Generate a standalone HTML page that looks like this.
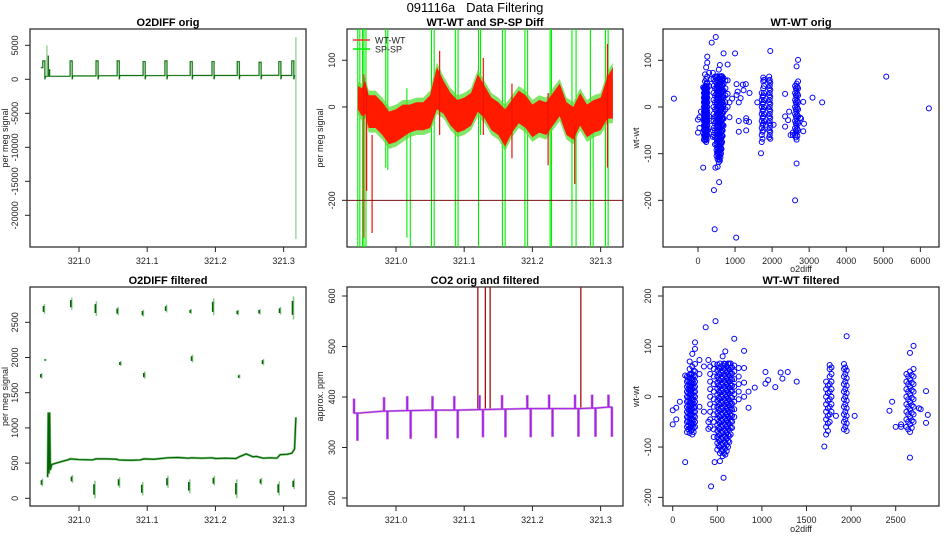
<!DOCTYPE html>
<html><head><meta charset="utf-8">
<style>
html,body{margin:0;padding:0;background:#fff;}
svg{display:block;font-family:"Liberation Sans",Arial,sans-serif;}
.tk{font-size:9px;fill:#222;}
.ttl{font-size:11px;font-weight:bold;fill:#000;}
.lab{font-size:9px;fill:#222;}
</style></head>
<body>
<svg id="root" width="950" height="550" viewBox="0 0 950 550">
<text x="475" y="12" text-anchor="middle" font-size="13" fill="#000" style="white-space:pre">091116a   Data Filtering</text>
<defs>
<clipPath id="c1"><rect x="30" y="29" width="276" height="218"/></clipPath>
<clipPath id="c2"><rect x="347" y="29" width="276" height="218"/></clipPath>
<clipPath id="c3"><rect x="663" y="29" width="276" height="218"/></clipPath>
<clipPath id="c4"><rect x="30" y="287" width="276" height="219"/></clipPath>
<clipPath id="c5"><rect x="347" y="287" width="276" height="219"/></clipPath>
<clipPath id="c6"><rect x="663" y="287" width="276" height="219"/></clipPath>
</defs>
</svg>
<script>
// ---------- data ----------
const cycT = [320.947,320.987,321.025,321.056,321.094,321.126,321.163,321.195,321.232,321.264,321.293,321.312];
const cycHi = [2700,2700,2700,2700,2600,2700,2600,2600,2600,2500,2600,2700];
const o2Base = [450,500,520,550,540,560,570,570,565,590,570,620];
const o2SpikeT = [320.953,320.955,320.957,321.318];
const o2SpikeV = [5000,3500,1500,6200];
const o2EndLow = -23500;

const wtMeanT = [320.944,320.95,320.955,320.96,320.97,320.98,320.99,321.0,321.01,321.02,321.03,321.04,321.05,321.06,321.07,321.08,321.09,321.1,321.11,321.12,321.13,321.14,321.15,321.16,321.17,321.18,321.19,321.2,321.21,321.22,321.23,321.24,321.25,321.26,321.27,321.28,321.29,321.3,321.31,321.318];
const wtMeanV = [20,10,20,-10,-10,-25,-45,-40,-30,-25,-20,-20,-10,40,20,-5,-20,-15,-5,30,10,-15,-25,-45,-20,0,-10,-30,-20,-25,-5,15,-25,-35,-5,-30,-20,-15,20,30];
const wtHalf = [25,30,35,35,35,35,35,35,35,30,30,30,35,45,35,35,35,35,35,40,35,35,35,40,35,35,35,35,35,35,35,35,35,35,35,35,35,35,45,55];
const wtSpikeT = [320.953,320.957,320.965,321.064,321.128,321.17,321.223,321.262,321.31];
const wtSpikeLo = [-280,-180,-270,-60,-60,-110,-125,-165,-130];
const wtSpikeHi = [70,40,-60,120,105,50,30,-40,135];
const spT = [320.944,320.947,320.951,320.953,320.956,320.985,320.988,321.016,321.021,321.052,321.056,321.087,321.091,321.121,321.124,321.156,321.16,321.189,321.193,321.226,321.228,321.258,321.264,321.285,321.289,321.307,321.311];
const spLo = [-300,-300,-300,-300,-300,-130,-135,-280,-300,-300,-300,-300,-300,-300,-60,-300,-300,-300,-300,-300,-300,-300,-300,-300,-300,-300,-300];
const spHi = [170,170,170,170,170,170,170,40,-40,170,170,170,170,170,170,170,170,170,170,170,170,170,170,170,-40,170,170];
const limitLine = -200;

const fHiT = [320.948,320.988,321.024,321.056,321.093,321.127,321.163,321.196,321.232,321.264,321.294,321.313];
const fHiLo = [2620,2680,2590,2600,2580,2640,2620,2600,2600,2610,2610,2540];
const fHiHi = [2760,2850,2800,2720,2680,2750,2690,2840,2680,2690,2720,2870];
const fMidT = [320.944,320.950,321.060,321.095,321.165,321.234,321.269];
const fMidLo = [1700,1950,1880,1700,1930,1700,1890];
const fMidHi = [1780,1980,1950,1800,2040,1760,1980];
const fLoT = [320.945,320.989,321.022,321.058,321.092,321.129,321.161,321.197,321.230,321.266,321.292,321.314];
const fLoLo = [170,220,0,150,40,150,70,180,0,190,40,130];
const fLoHi = [280,330,250,300,230,320,270,320,270,290,240,280];
const fBaseT = [320.954,320.955,320.956,320.957,320.958,320.96,320.97,320.985,320.987,321.0,321.02,321.025,321.04,321.055,321.058,321.075,321.09,321.095,321.11,321.125,321.13,321.145,321.16,321.165,321.18,321.195,321.2,321.215,321.23,321.235,321.245,321.255,321.26,321.27,321.28,321.29,321.295,321.305,321.312,321.316,321.318];
const fBaseV = [300,1220,350,1220,400,480,510,550,560,550,545,560,560,555,545,540,545,560,555,570,575,580,570,575,570,575,565,570,565,590,630,590,595,570,575,570,620,625,640,700,1150];

const coT = [320.944,320.988,321.022,321.059,321.091,321.128,321.161,321.198,321.23,321.268,321.293,321.317];
const coBase = [368,372,373,374,374,375,376,377,377,377,378,380];
const coHi = [395,398,400,400,400,402,402,402,403,403,403,403];
const coLo = [315,318,319,320,320,322,322,322,323,323,323,323];
const coSpikeT = [321.120,321.131,321.138,321.271];
const coSpikeTop = 620;

// scatter: shared points (columns of x with y values)
const scX = [160,190,220,250,420,460,500,530,560,590,620,650,690,740,1720,1760,1920,1950,2620,2660,2700,300,350,400,800,850,920,1040,1070,1150,1210,1230,1290,1390,0,40,80,140,1830,2040,2430,2460,2500,2560,2760,2840,2860,2780,430,570,480,370,530,470,1700,
  175,205,235,515,545,575,605,635,665,1740,1780,1935,2640,2680];
const scY = [
 [-70,-60,-50,-40,-30,-20,-10,0,10,20,30,40],
 [-72,-62,-52,-44,-36,-28,-20,-12,-4,4,12,20,28,36,44,55,70],
 [-75,-65,-55,-45,-35,-25,-15,-5,5,15,25,35,45,60,85],
 [-60,-50,-40,-30,-20,-10,0,10,20,30,40,50,65,95,108],
 [-60,-45,-30,-15,0,15,30,45,60],
 [-80,-65,-50,-35,-20,-5,10,25,40,55,65],
 [-105,-92,-80,-68,-56,-44,-32,-20,-8,4,16,28,40,52,64],
 [-112,-100,-88,-76,-64,-52,-40,-28,-16,-4,8,20,32,44,56,66],
 [-118,-106,-94,-82,-70,-58,-46,-34,-22,-10,2,14,26,38,50,62,80],
 [-115,-103,-91,-79,-67,-55,-43,-31,-19,-7,5,17,29,41,53,65,90],
 [-100,-88,-76,-64,-52,-40,-28,-16,-4,8,20,32,44,56,66],
 [-75,-62,-50,-38,-26,-14,-2,10,22,34,46,58,66],
 [-40,-25,-10,5,20,35,50,62,115],
 [-5,10,25,40,57],
 [-75,-60,-45,-30,-15,0,15,30],
 [-50,-35,-20,-5,10,25,40,55,63],
 [-65,-50,-35,-20,-5,10,25,40,55,65],
 [-68,-53,-38,-23,-8,7,22,37,52,120],
 [-60,-45,-30,-15,0,15,30,45],
 [-70,-55,-40,-25,-10,5,20,35,50,87,-121],
 [-50,-35,-20,-5,10,25,40,55,101],
 [73,-20,45],[-30,60],[73,-50,-64],[91,57,28,0],[-22,10],[18],[26,49],[33],[19],[48],[36],[49],[30],
 [-27,-55],[-22,-45],[-10],[-130,42],[-38],[-38],[-28],[-10],[-60],[-60,-55],[-23],[-52,11],[-36],[-25],
 [-178],[-161],[150],[138],[-128],[-130],[-99],
 [-65,-57,-49,-41,-33,-25,-17,-9,-1,7,15,23,31,39],
 [-68,-60,-52,-44,-36,-28,-20,-12,-4,4,12,20,28,36,44],
 [-70,-62,-54,-46,-38,-30,-22,-14,-6,2,10,18,26,34,42,52],
 [-98,-86,-74,-62,-50,-38,-26,-14,-2,10,22,34,46,58],
 [-108,-96,-84,-72,-60,-48,-36,-24,-12,0,12,24,36,48,60],
 [-112,-100,-88,-76,-64,-52,-40,-28,-16,-4,8,20,32,44,56,66],
 [-108,-96,-84,-72,-60,-48,-36,-24,-12,0,12,24,36,48,60],
 [-90,-78,-66,-54,-42,-30,-18,-6,6,18,30,42,54,66],
 [-62,-50,-38,-26,-14,-2,10,22,34,46,58],
 [-68,-53,-38,-23,-8,7,22],
 [-30,-15,0,15,30,45,58],
 [-60,-45,-30,-15,0,15,30,45,58],
 [-65,-50,-35,-20,-5,10,25,40],
 [-62,-47,-32,-17,-2,13,28,43]
];
// points only in the original (removed by the filter)
const origX = [-650,5080,6230,450,1030,2620,3090,3350,1000,1100,1300,1380,1600,2350];
const origY = [[18],[65],[-3],[-262],[-280],[-200],[20],[10],[115],[-30,-53,10],[-30,-50,-24],[-32],[10],[-42,28,-20]];

// ---------- helpers ----------
const NS = 'http://www.w3.org/2000/svg';
const root = document.getElementById('root');
function mk(tag, attrs, parent){const e=document.createElementNS(NS,tag);for(const k in attrs)e.setAttribute(k,attrs[k]);(parent||root).appendChild(e);return e;}
function lin(d0,d1,r0,r1){return v=>r0+(v-d0)*(r1-r0)/(d1-d0);}

function panel(id, box, title, xs, ys, xt, yt, xl, yl, xfmt, ylabx, xlaby){
  const g = mk('g',{});
  
  
  const b = mk('rect',{x:box[0],y:box[1],width:box[2]-box[0],height:box[3]-box[1],fill:'none',stroke:'#222','stroke-width':1.2},g);
  
  
  const t = mk('text',{x:(box[0]+box[2])/2,y:box[1]-3,'text-anchor':'middle',class:'ttl'},g);
  t.textContent = title;
  
  
  const xa = mk('g',{},g);
  
  
  xt.forEach(v=>{const x=xs(v);
    mk('line',{x1:x,x2:x,y1:box[3],y2:box[3]+5,stroke:'#222'},xa);
    const tx=mk('text',{x:x,y:box[3]+17,'text-anchor':'middle',class:'tk'},xa);
    tx.textContent=xfmt(v);
    
    
  });
  const ya = mk('g',{},g);
  
  
  yt.forEach(v=>{const y=ys(v);
    mk('line',{x1:box[0],x2:box[0]-5,y1:y,y2:y,stroke:'#222'},ya);
    const lx=box[0]-12;
    const tx=mk('text',{x:lx,y:y,'text-anchor':'middle',class:'tk',transform:`rotate(-90 ${lx} ${y})`},ya);
    tx.textContent=String(v);
    
    
  });
  if(yl){const cy=(box[1]+box[3])/2;
    const tx=mk('text',{x:ylabx,y:cy,'text-anchor':'middle',class:'lab',transform:`rotate(-90 ${ylabx} ${cy})`},g);
    tx.textContent=yl;
    
    
  }
  if(xl){const tx=mk('text',{x:(box[0]+box[2])/2,y:xlaby,'text-anchor':'middle',class:'lab'},g);
    tx.textContent=xl;
    
    
  }
  return g;
}
const tfmt = v=>v.toFixed(1);
const tTicks = [321.0,321.1,321.2,321.3];
function poly(pts){return pts.map(p=>p[0].toFixed(2)+','+p[1].toFixed(2)).join(' ');}

// ---------- panel 1: O2DIFF orig ----------
{
  const sx = lin(320.9282,321.3328,30,306), sy = lin(-24660,7400,247,29);
  panel('o2diff-orig-panel',[30,29,306,247],'O2DIFF orig',sx,sy,tTicks,[5000,0,-5000,-10000,-15000,-20000],null,'per meg signal',tfmt,8,0);
  const g = mk('g',{'clip-path':'url(#c1)'});
  
  
  const pts=[[320.944,1700]];
  cycT.forEach((t,i)=>{const prev=i?o2Base[i-1]:1700;
    pts.push([t,prev],[t,cycHi[i]],[t+0.003,cycHi[i]],[t+0.003,0],[t+0.004,o2Base[i]]);
    if(i<cycT.length-1) pts.push([cycT[i+1]-0.001,o2Base[i]]);
  });
  pts.push([o2SpikeT[3]-0.002,o2Base[o2Base.length-1]]);
  const P=pts.map(p=>[sx(p[0]),sy(p[1])]);
  let l=mk('polyline',{points:poly(P),fill:'none',stroke:'#8cc88c','stroke-width':1.6},g);
  
  
  l=mk('polyline',{points:poly(P),fill:'none',stroke:'#006400','stroke-width':0.8},g);
  
  
  o2SpikeT.forEach((t,i)=>{
    const lo = i===3?o2EndLow:500;
    const s=mk('line',{x1:sx(t),x2:sx(t),y1:sy(lo),y2:sy(o2SpikeV[i]),stroke:i===0||i===3?'#8cc88c':'#006400','stroke-width':1.2},g);
    
    
  });
}

// ---------- panel 2: WT-WT and SP-SP Diff ----------
{
  const sx = lin(320.9282,321.3328,347,623), sy = lin(-300,167,247,29);
  panel('wt-sp-diff-panel',[347,29,623,247],'WT-WT and SP-SP Diff',sx,sy,tTicks,[100,0,-200],null,'per meg signal',tfmt,323,0);
  const g = mk('g',{'clip-path':'url(#c2)'});
  
  
  spT.forEach((t,i)=>{
    const s=mk('line',{x1:sx(t),x2:sx(t),y1:sy(spLo[i]),y2:sy(spHi[i]),stroke:'#00ee00','stroke-width':1.1},g);
    
    
  });
  const up=wtMeanT.map((t,i)=>[sx(t),sy(wtMeanV[i]+wtHalf[i]+10)]);
  const dn=wtMeanT.map((t,i)=>[sx(t),sy(wtMeanV[i]-wtHalf[i]-10)]).reverse();
  let b=mk('polygon',{points:poly(up.concat(dn)),fill:'#55dd33',opacity:0.75},g);
  
  
  const up2=wtMeanT.map((t,i)=>[sx(t),sy(wtMeanV[i]+wtHalf[i])]);
  const dn2=wtMeanT.map((t,i)=>[sx(t),sy(wtMeanV[i]-wtHalf[i])]).reverse();
  b=mk('polygon',{points:poly(up2.concat(dn2)),fill:'#ff1a00'},g);
  
  
  wtSpikeT.forEach((t,i)=>{
    const s=mk('line',{x1:sx(t),x2:sx(t),y1:sy(wtSpikeLo[i]),y2:sy(wtSpikeHi[i]),stroke:'#ee1100','stroke-width':1.2},g);
    
    
  });
  const h=mk('line',{x1:347,x2:623,y1:sy(limitLine),y2:sy(limitLine),stroke:'#7a1010','stroke-width':1},g);
  
  
  const lg=mk('g',{});
  
  
  [['WT-WT','#ff3030',40],['SP-SP','#00ee00',49]].forEach(r=>{
    const e=mk('g',{},lg);
    
    
    mk('line',{x1:353,x2:370,y1:r[2],y2:r[2],stroke:r[1],'stroke-width':1.5},e);
    const tx=mk('text',{x:375,y:r[2]+3.5,class:'lab',fill:'#222'},e);
    tx.textContent=r[0];
  });
}

// ---------- panel 3: WT-WT orig scatter ----------
{
  const sx = lin(0,1000,698,735.06), sy = lin(0,100,107,60.33);
  panel('wt-wt-orig-panel',[663,29,939,247],'WT-WT orig',sx,sy,[0,1000,2000,3000,4000,5000,6000],[100,0,-100,-200],'o2diff','wt-wt',v=>String(v),639,272);
  const g = mk('g',{'clip-path':'url(#c3)'});
  
  
  [[scX,scY],[origX,origY]].forEach(set=>set[0].forEach((x,i)=>set[1][i].forEach(y=>{
    const c=mk('circle',{cx:sx(x),cy:sy(y),r:2.5,fill:'none',stroke:'#0000ff','stroke-width':1},g);
    
    
  })));
}

// ---------- panel 4: O2DIFF filtered ----------
{
  const sx = lin(320.9282,321.3328,30,306), sy = lin(0,2500,498.3,322.3);
  panel('o2diff-filtered-panel',[30,287,306,506],'O2DIFF filtered',sx,sy,tTicks,[0,500,1000,1500,2000,2500],null,'per meg signal',tfmt,8,0);
  const g = mk('g',{'clip-path':'url(#c4)'});
  
  
  const P=fBaseT.map((t,i)=>[sx(t),sy(fBaseV[i])]);
  let l=mk('polyline',{points:poly(P),fill:'none',stroke:'#8cc88c','stroke-width':2.4},g);
  
  
  l=mk('polyline',{points:poly(P),fill:'none',stroke:'#006400','stroke-width':1.2},g);
  
  
  [[fHiT,fHiLo,fHiHi],[fMidT,fMidLo,fMidHi],[fLoT,fLoLo,fLoHi]].forEach(s=>s[0].forEach((t,i)=>{
    const a=mk('line',{x1:sx(t)+1,x2:sx(t)+1,y1:sy(s[1][i]),y2:sy(s[2][i]),stroke:'#8cc88c','stroke-width':1.5},g);
    
    
    const m=(s[1][i]+s[2][i])/2, h=(s[2][i]-s[1][i])*0.3;
    const b=mk('line',{x1:sx(t),x2:sx(t),y1:sy(m-h),y2:sy(m+h),stroke:'#006400','stroke-width':1.6},g);
    
    
  }));
}

// ---------- panel 5: CO2 orig and filtered ----------
{
  const sx = lin(320.9282,321.3328,347,623), sy = lin(200,600,498,296);
  panel('co2-panel',[347,287,623,506],'CO2 orig and filtered',sx,sy,tTicks,[200,300,400,500,600],null,'approx. ppm',tfmt,323,0);
  const g = mk('g',{'clip-path':'url(#c5)'});
  
  
  coSpikeT.forEach(t=>{
    const s=mk('line',{x1:sx(t),x2:sx(t),y1:sy(375),y2:sy(coSpikeTop),stroke:'#a01010','stroke-width':1.3},g);
    
    
  });
  const pts=[];
  coT.forEach((t,i)=>{const nb=coBase[i];
    pts.push([t-0.006,nb],[t-0.006,coHi[i]],[t-0.005,coHi[i]],[t-0.005,nb],[t-0.001,nb],[t-0.001,coLo[i]],[t,coLo[i]],[t,nb]);
    if(i<coT.length-1) pts.push([coT[i+1]-0.007,coBase[i+1]]);
  });
  const P=pts.map(p=>[sx(p[0]),sy(p[1])]);
  let l=mk('polyline',{points:poly(P),fill:'none',stroke:'#d090d0','stroke-width':2.2},g);
  
  
  l=mk('polyline',{points:poly(P),fill:'none',stroke:'#a020f0','stroke-width':1},g);
  
  
}

// ---------- panel 6: WT-WT filtered scatter ----------
{
  const sx = lin(0,2500,672.7,895.7), sy = lin(0,200,396.7,296);
  panel('wt-wt-filtered-panel',[663,287,939,506],'WT-WT filtered',sx,sy,[0,500,1000,1500,2000,2500],[200,100,0,-100,-200],'o2diff','wt-wt',v=>String(v),639,532);
  const g = mk('g',{'clip-path':'url(#c6)'});
  
  
  scX.forEach((x,i)=>scY[i].forEach(y=>{
    const c=mk('circle',{cx:sx(x),cy:sy(y),r:2.5,fill:'none',stroke:'#0000ff','stroke-width':1},g);
    
    
  }));
}
</script>
</body></html>
